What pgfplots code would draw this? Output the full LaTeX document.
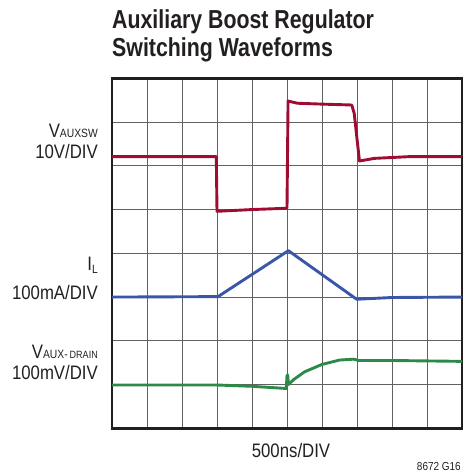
\documentclass[border=0pt]{standalone}
\usepackage{pgfplots}
\pgfplotsset{compat=1.18}
\usepackage{fontspec}
\setmainfont{Liberation Sans}[FakeStretch=0.86]
\newfontfamily\titlefont{Liberation Sans}[FakeStretch=0.82]
\definecolor{tred}{RGB}{158,12,52}
\definecolor{tblue}{RGB}{58,86,168}
\definecolor{tgreen}{RGB}{44,138,72}
\definecolor{txt}{RGB}{35,31,32}
\begin{document}
\begin{tikzpicture}
\path[use as bounding box] (0,0) rectangle (466bp,-475bp);
\begin{axis}[
  at={(112bp,-428.3bp)}, anchor=south west,
  width=350bp, height=350bp, scale only axis,
  xmin=0, xmax=10, ymin=0, ymax=8,
  xtick={1,...,9}, ytick={1,...,7},
  xticklabels={}, yticklabels={},
  major tick length=0pt,
  grid=major,
  grid style={line width=1bp, color=black!62},
  axis line style={line width=2.5bp, color=txt},
  clip=true,
]
\addplot[tred, line width=2.9bp, line join=round] coordinates {
(0,6.21) (2.98,6.21) (3.0,4.96) (4.0,5.0) (5.0,5.03) (5.03,7.48) (5.3,7.43) (6.0,7.41) (6.85,7.39) (6.92,7.2) (7.07,6.11) (7.5,6.17) (8.5,6.21) (10,6.21)
};
\addplot[tblue, line width=2.9bp, line join=round] coordinates {
(0,3.0) (3.03,3.01) (5.04,4.06) (6.99,2.95) (8,2.99) (10,3.0)
};
\addplot[tgreen, line width=2.9bp, line join=round] coordinates {
(0,0.99) (3.0,0.99) (4.0,0.96) (4.98,0.91) (5.0,1.2) (5.02,1.22) (5.04,1.0) (5.2,1.12) (5.5,1.29) (6.0,1.46) (6.5,1.56) (6.9,1.58) (7.05,1.55) (8,1.55) (10,1.53)
};
\end{axis}
\begin{scope}[every node/.style={inner sep=0pt, text=txt}]
\node[anchor=base west] at (112bp,-28.3bp) {\titlefont\fontsize{26bp}{28bp}\selectfont\bfseries Auxiliary Boost Regulator};
\node[anchor=base west] at (112bp,-56.7bp) {\titlefont\fontsize{26bp}{28bp}\selectfont\bfseries Switching Waveforms};
\node[anchor=base east] at (98bp,-137bp) {\fontsize{19.5bp}{22bp}\selectfont V\raisebox{-0.8bp}{\fontsize{12bp}{14bp}\selectfont AUXSW}};
\node[anchor=base east] at (98bp,-158bp) {\fontsize{19.5bp}{22bp}\selectfont 10V/DIV};
\node[anchor=base east] at (98bp,-270bp) {\fontsize{19.5bp}{22bp}\selectfont I\raisebox{-3bp}{\fontsize{12bp}{14bp}\selectfont L}};
\node[anchor=base east] at (98bp,-299.3bp) {\fontsize{19.5bp}{22bp}\selectfont 100mA/DIV};
\node[anchor=base east] at (98bp,-358bp) {\fontsize{19.5bp}{22bp}\selectfont V\raisebox{-0.8bp}{\fontsize{12bp}{14bp}\selectfont AUX-\,{\fontsize{10.5bp}{12bp}\selectfont DRAIN}}};
\node[anchor=base east] at (98bp,-379.3bp) {\fontsize{19.5bp}{22bp}\selectfont 100mV/DIV};
\node[anchor=base] at (291bp,-457.3bp) {\fontsize{19.5bp}{22bp}\selectfont 500ns/DIV};
\node[anchor=base east] at (461bp,-470bp) {\fontsize{11.6bp}{13bp}\selectfont 8672 G16};
\end{scope}
\end{tikzpicture}
\end{document}
